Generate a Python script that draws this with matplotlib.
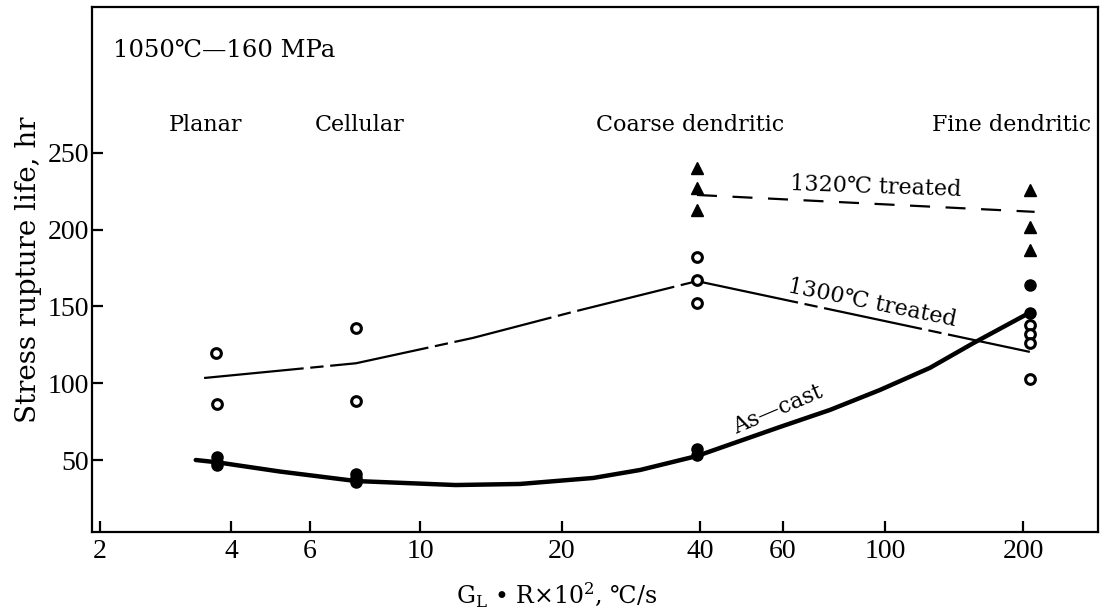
import numpy as np
import matplotlib
matplotlib.use("Agg")
import matplotlib.pyplot as plt
from matplotlib.ticker import FixedLocator, FixedFormatter, NullLocator

plt.rcParams['font.family'] = ['DejaVu Serif']
plt.rcParams['mathtext.fontset'] = 'dejavuserif'

# G_L*R x 10^2 (C/s) and stress rupture life (hr)
ascast_x = [3.72, 3.72, 3.72, 7.43, 7.43, 7.43, 39.4, 39.4, 207, 207]
ascast_y = [52, 49, 47, 41, 38, 36, 57, 53, 164, 146]
t1300_x = [3.69, 3.72, 7.43, 7.43, 39.4, 39.4, 39.4, 207, 207, 207, 207]
t1300_y = [120, 86.5, 136, 88.5, 182, 167, 152, 138, 132, 126, 103]
t1320_x = [39.4, 39.4, 39.4, 207, 207, 207]
t1320_y = [240, 227, 213, 226, 202, 187]

# trend lines drawn by hand in the original
ascast_line_x = [3.32, 3.72, 5.14, 7.43, 11.9, 16.3, 23.4, 29.6, 39.4, 59.1,
                 75.9, 97.5, 125.3, 155.6, 207]
ascast_line_y = [50, 48.5, 42.5, 36.3, 33.7, 34.4, 38.3, 43.5, 52.6, 71.5,
                 82.6, 95.6, 110, 126, 146]
t1300_line_x = [3.47, 7.43, 12.95, 21.1, 39.4, 207]
t1300_line_y = [103.4, 113, 129.5, 146.4, 166.5, 120.4]
t1320_line_x = [39.4, 212]
t1320_line_y = [222.6, 211.6]

xticks = [2, 4, 6, 10, 20, 40, 60, 100, 200]
yticks = [50, 100, 150, 200, 250]
structures = ['Planar', 'Cellular', 'Coarse dendritic', 'Fine dendritic']
structure_x = [3.49, 7.54, 38, 189]

# the printed log axis is not quite even: tick spacing as drawn
scale_vals = np.log10([1, 2, 4, 6, 10, 20, 40, 60, 100, 200, 1000])
scale_pos = np.array([-31, 100, 231, 310, 420, 562, 700, 783, 885, 1023, 1343.5])


def fwd(x):
    x = np.clip(np.asarray(x, dtype=float), 1e-3, None)
    return np.interp(np.log10(x), scale_vals, scale_pos)


def inv(p):
    return 10 ** np.interp(p, scale_pos, scale_vals)


fig = plt.figure(figsize=(11.01, 6.09), dpi=100)
ax = fig.add_axes([0.0836, 0.1264, 0.9137, 0.8621])
ax.set_xscale('function', functions=(fwd, inv))
ax.set_xlim(1.918, 291.5)
ax.set_ylim(3.1, 345)

# lines
ax.plot(ascast_line_x, ascast_line_y, color='black', lw=3.2, solid_capstyle='round')
ax.plot(t1300_line_x, t1300_line_y, color='black', lw=1.6,
        linestyle=(0, (45, 3, 6, 3)))
ax.plot(t1320_line_x, t1320_line_y, color='black', lw=1.6,
        linestyle=(0, (9, 7)))

# points
ax.plot(ascast_x, ascast_y, 'o', color='black', ms=8, zorder=5)
ax.plot(t1300_x, t1300_y, 'o', mfc='white', mec='black', mew=2.2, ms=7, zorder=5)
ax.plot(t1320_x, t1320_y, '^', color='black', ms=8, zorder=5)

# axes styling
for sp in ax.spines.values():
    sp.set_linewidth(1.6)
ax.xaxis.set_major_locator(FixedLocator(xticks))
ax.xaxis.set_major_formatter(FixedFormatter([str(t) for t in xticks]))
ax.xaxis.set_minor_locator(NullLocator())
ax.set_yticks(yticks)
ax.tick_params(direction='in', length=8, width=1.6, labelsize=20)
ax.tick_params(axis='y', pad=2)
ax.tick_params(axis='x', pad=5)
for lbl in ax.get_xticklabels() + ax.get_yticklabels():
    lbl.set_family(['Liberation Serif', 'DejaVu Serif'])

ax.set_ylabel('Stress rupture life, hr', fontsize=20, labelpad=4)
fig.text(557 / 1101, 1 - 595 / 609, r'$\mathrm{G_L}$ • R×10$^2$, ℃/s',
         fontsize=17, ha='center', va='center')

# annotations
ax.text(2.14, 317, '1050℃—160 MPa', fontsize=17.5, ha='left', va='center')
for name, x in zip(structures, structure_x):
    ax.text(x, 268, name, fontsize=16, ha='center', va='center')
ax.text(95.6, 227.8, '1320℃ treated', fontsize=16, ha='center', va='center',
        rotation=-2)
ax.text(93.7, 152.3, '1300℃ treated', fontsize=16, ha='center', va='center',
        rotation=-11.5)
ax.text(58.5, 82.6, 'As—cast', fontsize=16, ha='center', va='center',
        rotation=23)

fig.savefig('out.png', dpi=100)
